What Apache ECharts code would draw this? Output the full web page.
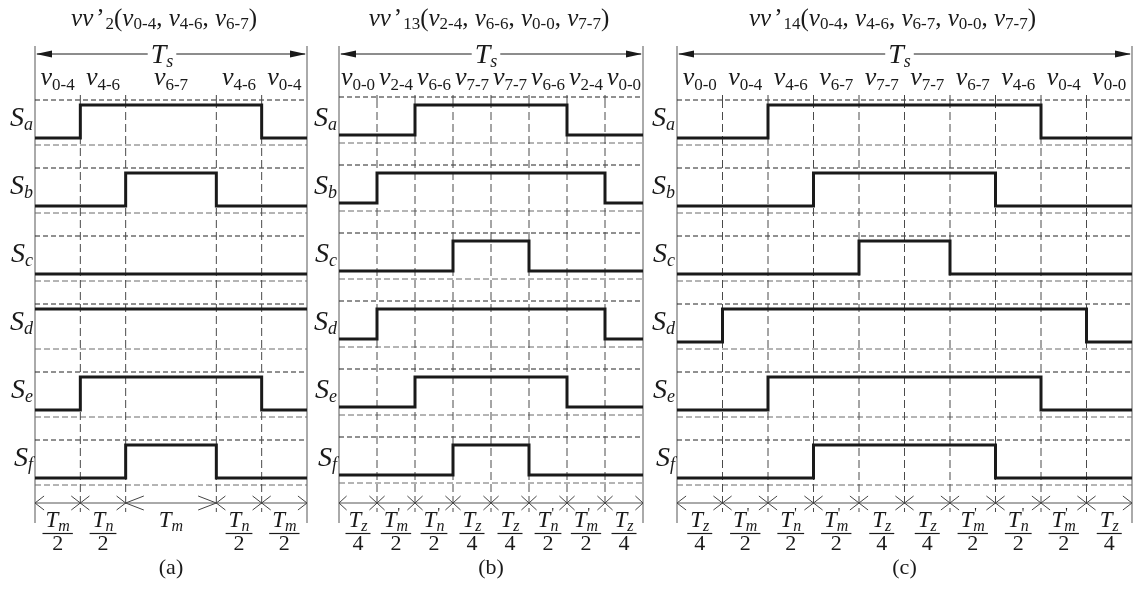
<!DOCTYPE html>
<html>
<head>
<meta charset="utf-8">
<title>Switching sequences</title>
<script src="https://cdn.jsdelivr.net/npm/echarts@6.0.0/dist/echarts.min.js"></script>
<style>
  html, body { margin: 0; padding: 0; background: #fff; }
  #chart { width: 1133px; height: 598px; }
</style>
</head>
<body>
<div id="chart"></div>
<script>
// Switch rows, top to bottom
const switchNames = ['a', 'b', 'c', 'd', 'e', 'f'];
const captions = ['(a)', '(b)', '(c)'];

// (a) vv'2 : five intervals, the middle one twice as long
const titleIdxA = '2';
const titleVecA = ['0-4', '4-6', '6-7'];
const segWidthA = [1, 1, 2, 1, 1];
const vectorA = ['0-4', '4-6', '6-7', '4-6', '0-4'];
const durSymA = ['m', 'n', 'm', 'n', 'm'];
const durPrimeA = [0, 0, 0, 0, 0];
const durDenA = ['2', '2', '', '2', '2'];
const statesA = [
  [0, 1, 1, 1, 0],
  [0, 0, 1, 0, 0],
  [0, 0, 0, 0, 0],
  [1, 1, 1, 1, 1],
  [0, 1, 1, 1, 0],
  [0, 0, 1, 0, 0]
];

// (b) vv'13 : eight equal intervals
const titleIdxB = '13';
const titleVecB = ['2-4', '6-6', '0-0', '7-7'];
const segWidthB = [1, 1, 1, 1, 1, 1, 1, 1];
const vectorB = ['0-0', '2-4', '6-6', '7-7', '7-7', '6-6', '2-4', '0-0'];
const durSymB = ['z', 'm', 'n', 'z', 'z', 'n', 'm', 'z'];
const durPrimeB = [0, 1, 1, 0, 0, 1, 1, 0];
const durDenB = ['4', '2', '2', '4', '4', '2', '2', '4'];
const statesB = [
  [0, 0, 1, 1, 1, 1, 0, 0],
  [0, 1, 1, 1, 1, 1, 1, 0],
  [0, 0, 0, 1, 1, 0, 0, 0],
  [0, 1, 1, 1, 1, 1, 1, 0],
  [0, 0, 1, 1, 1, 1, 0, 0],
  [0, 0, 0, 1, 1, 0, 0, 0]
];

// (c) vv'14 : ten equal intervals
const titleIdxC = '14';
const titleVecC = ['0-4', '4-6', '6-7', '0-0', '7-7'];
const segWidthC = [1, 1, 1, 1, 1, 1, 1, 1, 1, 1];
const vectorC = ['0-0', '0-4', '4-6', '6-7', '7-7', '7-7', '6-7', '4-6', '0-4', '0-0'];
const durSymC = ['z', 'm', 'n', 'm', 'z', 'z', 'm', 'n', 'm', 'z'];
const durPrimeC = [0, 1, 1, 1, 0, 0, 1, 1, 1, 0];
const durDenC = ['4', '2', '2', '2', '4', '4', '2', '2', '2', '4'];
const statesC = [
  [0, 0, 1, 1, 1, 1, 1, 1, 0, 0],
  [0, 0, 0, 1, 1, 1, 1, 0, 0, 0],
  [0, 0, 0, 0, 1, 1, 0, 0, 0, 0],
  [0, 1, 1, 1, 1, 1, 1, 1, 1, 0],
  [0, 0, 1, 1, 1, 1, 1, 1, 0, 0],
  [0, 0, 0, 1, 1, 1, 1, 0, 0, 0]
];

// ---------------------------------------------------------------------------
const FONT = "'Liberation Serif','Times New Roman',serif";
const INK = '#1a1a1a';
const PITCH = 68;              // vertical units per switch row
const ROWS = switchNames.length;

const panels = [
  { left: 35,  width: 272, idx: titleIdxA, vec: titleVecA, widths: segWidthA, vectors: vectorA,
    sym: durSymA, prime: durPrimeA, den: durDenA, states: statesA,
    lay: { dashTop: 0, high: 5, low: 38, dashBottom: 45 }, titleShift: -7, tsShift: -9 },
  { left: 339, width: 304, idx: titleIdxB, vec: titleVecB, widths: segWidthB, vectors: vectorB,
    sym: durSymB, prime: durPrimeB, den: durDenB, states: statesB,
    lay: { dashTop: -3, high: 5, low: 35, dashBottom: 43 }, titleShift: -2, tsShift: -5 },
  { left: 677, width: 455, idx: titleIdxC, vec: titleVecC, widths: segWidthC, vectors: vectorC,
    sym: durSymC, prime: durPrimeC, den: durDenC, states: statesC,
    lay: { dashTop: 0, high: 5, low: 38, dashBottom: 45 }, titleShift: -12, tsShift: -5 }
];

const measureCtx = document.createElement('canvas').getContext('2d');
function textWidth(str, size, italic) {
  measureCtx.font = (italic ? 'italic ' : '') + size + 'px ' + FONT;
  return measureCtx.measureText(str).width;
}

// rich-text token; positive shift lowers the token against its neighbours
function tok(size, italic, shift) {
  return {
    fontFamily: FONT, fontSize: size, fontStyle: italic ? 'italic' : 'normal', fill: INK,
    padding: shift >= 0 ? [shift, 0, 0, 0] : [0, 0, -shift, 0]
  };
}
const titleRich = { it: tok(25, true, -6), rm: tok(25, false, -6), sub: tok(17, false, 6),
                    pr: Object.assign(tok(25, false, -6), { padding: [0, 1, 6, 3] }) };
const vecRich = { v: tok(26, true, -7), sub: tok(17, false, 7) };
const sRich = { s: tok(28, true, -7), sub: tok(18, true, 7) };
const tsRich = { t: tok(28, true, -7), sub: tok(18, true, 7) };
const fracRich = { t: tok(23, true, -6), sub: tok(16, true, 6) };

function titleText(idx, vecs) {
  return '{it|vv}{pr|\u2019}{sub|' + idx + '}{rm|(}' +
    vecs.map(v => '{it|v}{sub|' + v + '}').join('{rm|, }') + '{rm|)}';
}

function hLine(x1, x2, y, stroke, width, dash) {
  return { type: 'line', shape: { x1, y1: y, x2, y2: y },
           style: { stroke, lineWidth: width, lineDash: dash || null } };
}
function vLine(x, y1, y2, stroke, width, dash) {
  return { type: 'line', shape: { x1: x, y1, x2: x, y2 },
           style: { stroke, lineWidth: width, lineDash: dash || null } };
}
function seg(x1, y1, x2, y2, stroke, width) {
  return { type: 'line', shape: { x1, y1, x2, y2 }, style: { stroke, lineWidth: width } };
}
function arrowHead(tipX, y, dir) { // filled, dir = -1 points left, +1 points right
  const len = 16, half = 3.5;
  return { type: 'polygon', shape: { points: [[tipX, y], [tipX - dir * len, y - half], [tipX - dir * len, y + half]] },
           style: { fill: INK } };
}

const grids = [], xAxes = [], yAxes = [], series = [];

panels.forEach((p, pi) => {
  const total = p.widths.reduce((a, b) => a + b, 0);
  const bounds = [0];
  p.widths.forEach(w => bounds.push(bounds[bounds.length - 1] + w));

  grids.push({ left: p.left, width: p.width, top: 100, height: ROWS * PITCH });
  xAxes.push({ gridIndex: pi, type: 'value', min: 0, max: total, show: false });
  yAxes.push({ gridIndex: pi, type: 'value', min: 0, max: ROWS * PITCH, inverse: true, show: false });
  const axisRef = { xAxisIndex: pi, yAxisIndex: pi, coordinateSystem: 'cartesian2d' };

  // frame: borders, T_s span arrow, bottom time axis, title and caption
  series.push(Object.assign({
    type: 'custom', silent: true, z: 1, data: [[0, 0]],
    renderItem(params, api) {
      const x0 = api.coord([0, 0])[0], x1 = api.coord([total, 0])[0];
      const Y = v => api.coord([0, v])[1];
      const cx = (x0 + x1) / 2;
      const yTs = Y(-46), yAx = Y(403);
      const ch = [];
      ch.push(vLine(x0, Y(-54), Y(423), '#8e8e8e', 1.5));
      ch.push(vLine(x1, Y(-54), Y(423), '#8e8e8e', 1.5));
      ch.push(hLine(x0 + 2, x1 - 2, yTs, INK, 1));
      ch.push(arrowHead(x0 + 1, yTs, -1));
      ch.push(arrowHead(x1 - 1, yTs, 1));
      ch.push({ type: 'text', x: cx + p.tsShift, y: Y(-41), z2: 5,
                style: { text: '{t|T}{sub|s}', rich: tsRich, align: 'center', verticalAlign: 'middle',
                         backgroundColor: '#fff', padding: [0, 3, 0, 3] } });
      ch.push(hLine(x0, x1, yAx, '#555', 1));
      ch.push({ type: 'text', x: cx + p.titleShift, y: Y(-78),
                style: { text: titleText(p.idx, p.vec), rich: titleRich, align: 'center', verticalAlign: 'middle' } });
      ch.push({ type: 'text', x: cx, y: Y(468),
                style: { text: captions[pi], font: '22px ' + FONT, fill: INK, align: 'center', verticalAlign: 'middle' } });
      return { type: 'group', children: ch };
    }
  }, axisRef));

  // one horizontal band per switch: dashed guides and S label
  series.push(Object.assign({
    type: 'custom', silent: true, z: 2,
    data: switchNames.map((n, r) => [0, r * PITCH]),
    renderItem(params, api) {
      const top = api.value(1);
      const xl = api.coord([0, top])[0], xr = api.coord([total, top])[0];
      const L = p.lay;
      const ch = [
        hLine(xl, xr, api.coord([0, top + L.dashTop])[1], '#222', 1, [5, 3]),
        hLine(xl, xr, api.coord([0, top + L.dashBottom])[1], '#6a6a6a', 1, [6, 3]),
        { type: 'text', x: xl - 2, y: api.coord([0, top + 22])[1],
          style: { text: '{s|S}{sub|' + switchNames[params.dataIndex] + '}', rich: sRich,
                   align: 'right', verticalAlign: 'middle' } }
      ];
      return { type: 'group', children: ch };
    }
  }, axisRef));

  // interval boundaries: dashed verticals and the arrow marks of the time axis
  series.push(Object.assign({
    type: 'custom', silent: true, z: 2,
    data: bounds.map((b, i) => [b, 0, i > 0 ? bounds[i - 1] : b, i < bounds.length - 1 ? bounds[i + 1] : b]),
    renderItem(params, api) {
      const b = api.value(0), prev = api.value(2), next = api.value(3);
      const x = api.coord([b, 0])[0];
      const xp = api.coord([prev, 0])[0], xn = api.coord([next, 0])[0];
      const Y = v => api.coord([0, v])[1];
      const yAx = Y(403), h = 7;
      const ch = [];
      if (b > 0 && b < total) {
        ch.push(vLine(x, Y(-5), Y(0), '#444', 1));
        ch.push(vLine(x, Y(0), Y(412), '#4a4a4a', 1, [8, 4]));
      }
      const arm = w => Math.max(7.5, Math.min(20, w * 0.2));
      if (b > 0) {      // head pointing right, coming from the interval on the left
        const a = arm(x - xp);
        ch.push(seg(x - a, yAx - h, x, yAx, '#444', 1), seg(x - a, yAx + h, x, yAx, '#444', 1));
      }
      if (b < total) {  // head pointing left, coming from the interval on the right
        const a = arm(xn - x);
        ch.push(seg(x + a, yAx - h, x, yAx, '#444', 1), seg(x + a, yAx + h, x, yAx, '#444', 1));
      }
      return { type: 'group', children: ch };
    }
  }, axisRef));

  // per-interval labels: active vector above, dwell time below
  series.push(Object.assign({
    type: 'custom', silent: true, z: 3,
    data: p.widths.map((w, i) => [bounds[i], bounds[i + 1], i]),
    renderItem(params, api) {
      const i = api.value(2);
      const xa = api.coord([api.value(0), 0])[0], xb = api.coord([api.value(1), 0])[0];
      const cx = (xa + xb) / 2;
      const Y = v => api.coord([0, v])[1];
      const ch = [];
      ch.push({ type: 'text', x: cx, y: Y(-18),
                style: { text: '{v|v}{sub|' + p.vectors[i] + '}', rich: vecRich, align: 'center', verticalAlign: 'middle' } });
      const sym = p.sym[i];
      const wT = textWidth('T', 23, true), wS = textWidth(sym, 16, true);
      const wNum = wT + wS;
      const yNum = Y(424);
      ch.push({ type: 'text', x: cx, y: yNum,
                style: { text: '{t|T}{sub|' + sym + '}', rich: fracRich, align: 'center', verticalAlign: 'middle' } });
      if (p.prime[i]) {
        ch.push({ type: 'text', x: cx - wNum / 2 + wT + 1, y: yNum - 10,
                  style: { text: "'", font: '14px ' + FONT, fill: INK, align: 'left', verticalAlign: 'middle' } });
      }
      if (p.den[i]) {
        const bw = Math.max(wNum + 6, 22);
        ch.push(hLine(cx - bw / 2, cx + bw / 2, Y(433.5), INK, 1.2));
        ch.push({ type: 'text', x: cx, y: Y(444),
                  style: { text: p.den[i], font: '22px ' + FONT, fill: INK, align: 'center', verticalAlign: 'middle' } });
      }
      return { type: 'group', children: ch };
    }
  }, axisRef));

  // switching waveforms
  p.states.forEach((row, r) => {
    const pts = row.map((s, i) => [bounds[i], r * PITCH + (s ? p.lay.high : p.lay.low)]);
    const last = row[row.length - 1];
    pts.push([total, r * PITCH + (last ? p.lay.high : p.lay.low)]);
    series.push({
      type: 'line', name: 'S' + switchNames[r], xAxisIndex: pi, yAxisIndex: pi,
      data: pts, step: 'end', symbol: 'none', silent: true, clip: false, z: 5,
      lineStyle: { color: INK, width: 3, join: 'miter', cap: 'butt' }
    });
  });
});

const chart = echarts.init(document.getElementById('chart'), null, { renderer: 'canvas' });
chart.setOption({
  animation: false,
  backgroundColor: '#fff',
  grid: grids,
  xAxis: xAxes,
  yAxis: yAxes,
  series
});
</script>
</body>
</html>
